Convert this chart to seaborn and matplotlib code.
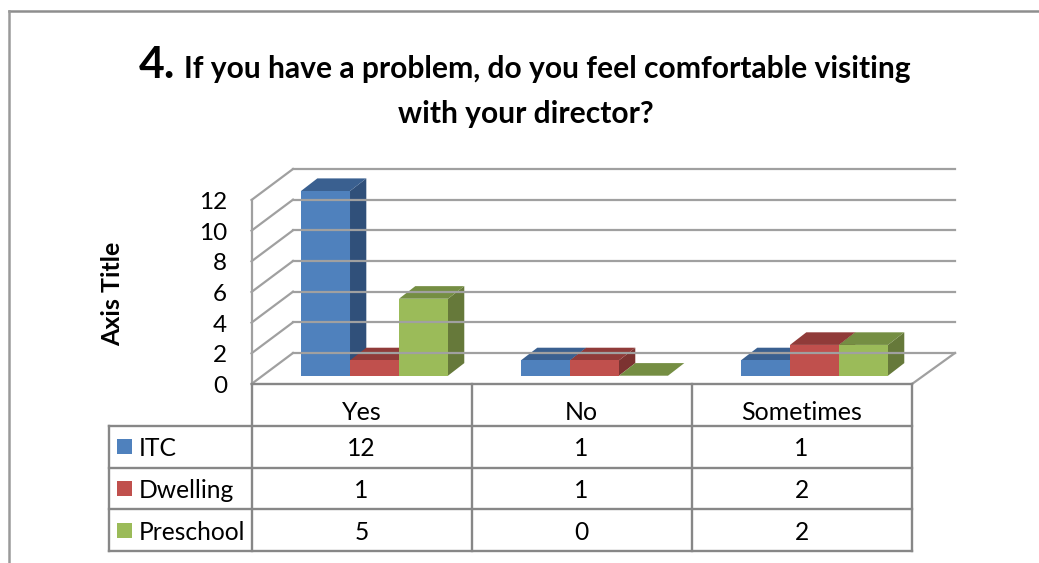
import matplotlib
matplotlib.use("Agg")
import matplotlib.pyplot as plt
from matplotlib.patches import Polygon, Rectangle
from matplotlib.transforms import Affine2D
from matplotlib.lines import Line2D
import pandas as pd
import seaborn as sns

categories = ["Yes", "No", "Sometimes"]
series_names = ["ITC", "Dwelling", "Preschool"]
itc = [12, 1, 1]
dwelling = [1, 1, 2]
preschool = [5, 0, 2]
y_ticks = [0, 2, 4, 6, 8, 10, 12]
title_number = "4."
title_line1 = "If you have a problem, do you feel comfortable visiting"
title_line2 = "with your director?"
axis_title = "Axis Title"

front_colors = ["#4F81BD", "#C0504D", "#9BBB59"]
side_colors = ["#30507A", "#7C3331", "#66793A"]
top_colors = ["#3A6090", "#903B39", "#758E43"]
GRID = "#8C8C8C"
W, H = 1039, 563

sns.set_theme(style="white")
plt.rcParams["font.family"] = ["Lato", "DejaVu Sans"]

fig = plt.figure(figsize=(W / 100, H / 100), dpi=100, facecolor="white")
px = Affine2D().scale(1, -1).translate(0, H)  # image pixels to display


def pline(xs, ys, lw=1.4, color=GRID, z=1):
    fig.add_artist(Line2D(xs, ys, transform=px, color=color, lw=lw, zorder=z,
                          solid_capstyle="projecting"))


def ptext(x, y, s, **kw):
    fig.text(x, y, s, transform=px, color="black", **kw)


# outer chart border (top and left only are in frame)
pline([8.5, W], [11, 11], lw=1.8, color="#8E8E8E")
pline([8.5, 8.5], [11, H], lw=1.8, color="#9A9A9A")

# 3D walls
y0_front, y0_back, unit = 384.0, 353.0, 184.0 / 12
x_front, x_back, x_right_back, x_right_front = 251.5, 293.0, 955.0, 912.0
for t in y_ticks:
    yb = y0_back - t * unit
    yf = y0_front - t * unit
    pline([x_back, x_right_back], [yb, yb], lw=1.6, color="#A0A0A0")
    pline([x_front, x_back], [yf, yb], lw=1.6, color="#A0A0A0")
    ptext(227, yf + 2.5, str(t), ha="right", va="center", fontsize=17.5)
pline([x_front, x_front], [y0_front - 12 * unit, y0_front], lw=1.6, color="#A0A0A0")
pline([x_right_front, x_right_back], [y0_front, y0_back], lw=1.6, color="#A0A0A0")

# bars: the axes maps category positions and values to the bar plane
left, right, top, bottom = 264.5, 924.5, 191.0, 375.7
ax = fig.add_axes([left / W, 1 - bottom / H, (right - left) / W, (bottom - top) / H])
ax.patch.set_visible(False)
df = pd.DataFrame({
    "category": categories * 3,
    "series": [s for s in series_names for _ in categories],
    "value": itc + dwelling + preschool,
})
sns.barplot(data=df, x="category", y="value", hue="series", order=categories,
            hue_order=series_names, palette=front_colors, width=0.668,
            saturation=1, legend=False, ax=ax, linewidth=0)
ax.set_xlim(-0.5, 2.5)
ax.set_ylim(0, 12)
ax.set_axis_off()

dx, dy = 16.3, 12.6  # depth of a bar in image pixels
bars = sorted(ax.patches, key=lambda p: p.get_x())
bars = [p for p in bars if p.get_width() > 0]
for k, bar in enumerate(bars):
    x0, x1 = bar.get_x(), bar.get_x() + bar.get_width()
    h = bar.get_height()
    hue_i = min(range(3), key=lambda i: sum(abs(a - b) for a, b in zip(
        matplotlib.colors.to_rgb(front_colors[i]), bar.get_facecolor()[:3])))
    (ax0, ay0), (ax1, ay1) = ax.transData.transform([(x0, 0), (x1, h)])
    side = [(ax1, ay0), (ax1 + dx, ay0 + dy), (ax1 + dx, ay1 + dy), (ax1, ay1)]
    lid = [(ax0, ay1), (ax0 + dx, ay1 + dy), (ax1 + dx, ay1 + dy), (ax1, ay1)]
    z = 3 + k
    if h > 0:
        ax.add_patch(Polygon(side, transform=None, facecolor=side_colors[hue_i],
                             edgecolor="none", zorder=z, clip_on=False))
    ax.add_patch(Polygon(lid, transform=None, facecolor=top_colors[hue_i],
                         edgecolor="none", zorder=z, clip_on=False))
    bar.set_zorder(z + 0.5)

# data table
col_x = [251.5, 471.5, 691.5, 911.5]
row_y = [426, 467.5, 509, 551]
label_x = 108.5
TBL = "#878787"
pline([col_x[0], col_x[-1]], [y0_front, y0_front], lw=1.7, color=TBL, z=2)
for x in col_x:
    pline([x, x], [y0_front, row_y[-1]], lw=1.7, color=TBL, z=2)
pline([label_x, label_x], [row_y[0], row_y[-1]], lw=1.7, color=TBL, z=2)
for y in row_y:
    pline([label_x, col_x[-1]], [y, y], lw=1.7, color=TBL, z=2)
for j, c in enumerate(categories):
    ptext((col_x[j] + col_x[j + 1]) / 2, 413, c, ha="center", va="center", fontsize=18)
rows = [itc, dwelling, preschool]
for i, name in enumerate(series_names):
    yc = (row_y[i] + row_y[i + 1]) / 2
    fig.add_artist(Rectangle((117, yc - 7.5), 15, 15, transform=px,
                             facecolor=front_colors[i], edgecolor="none"))
    ptext(139, yc + 2, name, ha="left", va="center", fontsize=17.7)
    for j, v in enumerate(rows[i]):
        ptext((col_x[j] + col_x[j + 1]) / 2, yc + 2, str(v), ha="center", va="center", fontsize=17.7)

# titles
ptext(138.5, 78, title_number, ha="left", va="baseline", fontsize=32, fontweight="bold")
ptext(184, 78, title_line1, ha="left", va="baseline", fontsize=21.6, fontweight="bold")
ptext(525.5, 123, title_line2, ha="center", va="baseline", fontsize=21.6, fontweight="bold")
ptext(112.5, 294, axis_title, ha="center", va="center", rotation=90, fontsize=18, fontweight="bold")

fig.savefig("out.png", dpi=100, facecolor="white")
